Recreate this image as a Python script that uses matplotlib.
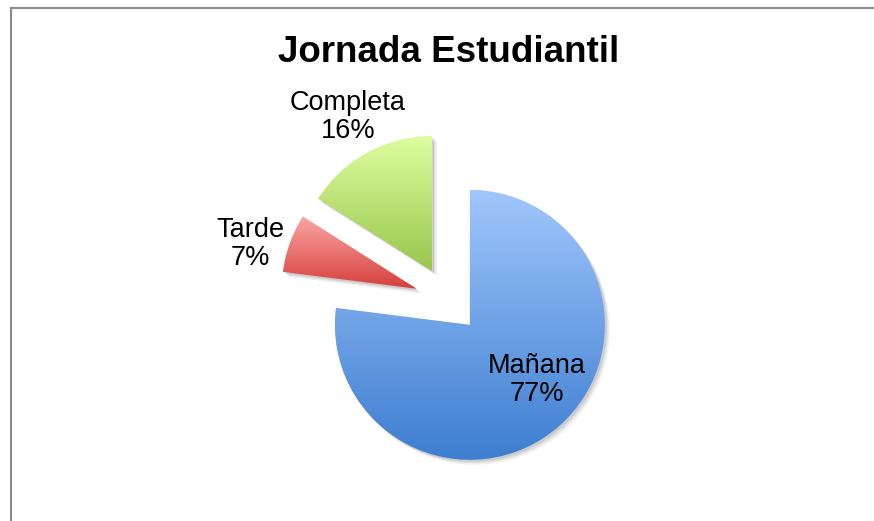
import numpy as np
import matplotlib
matplotlib.use("Agg")
import matplotlib.pyplot as plt
from matplotlib.colors import LinearSegmentedColormap
from matplotlib.lines import Line2D
from matplotlib.patches import Wedge

plt.rcParams['font.family'] = ['Liberation Sans', 'DejaVu Sans']

# datos
categorias = ["Mañana", "Tarde", "Completa"]
porcentajes = [77, 7, 16]
titulo = "Jornada Estudiantil"

# colores degradados (arriba, abajo)
grad_colores = [("#A0C6FC", "#3D7ED0"), ("#FBA6A3", "#D53F3D"), ("#DEFD9F", "#98C64C")]

fig = plt.figure(figsize=(8.74, 5.21), dpi=100)
ax = fig.add_axes([0, 0, 1, 1])

# marco (solo izquierda y arriba visibles)
fig.add_artist(Line2D([11 / 874, 11 / 874], [0, 1 - 8 / 521], color="#8c8c8c", lw=1.5,
                      transform=fig.transFigure))
fig.add_artist(Line2D([11 / 874, 1], [1 - 8 / 521, 1 - 8 / 521], color="#8c8c8c", lw=1.5,
                      transform=fig.transFigure))

centro = (448, 221)
radio = 135
# explode va en unidades de datos cuando radius != 1
wedges, _ = ax.pie(porcentajes, startangle=90, counterclock=False, radius=radio,
                   center=centro, explode=[0.245 * radio] * 3, frame=True)

for w, (c_top, c_bot) in zip(wedges, grad_colores):
    w.set_facecolor("none")
    w.set_edgecolor("none")
    # sombra suave
    for k, a in [(5, 0.05), (3.5, 0.07), (2, 0.09)]:
        sh = Wedge((w.center[0] + k, w.center[1] - k), w.r, w.theta1, w.theta2,
                   facecolor="black", edgecolor="none", alpha=a, zorder=1)
        ax.add_patch(sh)
    ext = w.get_path().get_extents()
    cmap = LinearSegmentedColormap.from_list("g", [c_bot, c_top])
    grad = np.linspace(0, 1, 256).reshape(-1, 1)
    im = ax.imshow(grad, cmap=cmap, origin="lower", aspect="auto",
                   extent=[ext.x0, ext.x1, ext.y0, ext.y1], zorder=2,
                   interpolation="bilinear")
    im.set_clip_path(w)

ax.set_xlim(0, 874)
ax.set_ylim(0, 521)
ax.axis("off")

# etiquetas
pos_etiquetas = [(537, 521 - 380), (250, 521 - 244), (348, 521 - 117)]
for nombre, p, (x, y) in zip(categorias, porcentajes, pos_etiquetas):
    ax.text(x, y, f"{nombre}\n{p}%", ha="center", va="center", fontsize=19.5,
            linespacing=1.1, zorder=5)

ax.text(449, 521 - 52, titulo, ha="center", va="center", fontsize=26.5,
        fontweight="bold")

fig.savefig("out.png", dpi=100)
